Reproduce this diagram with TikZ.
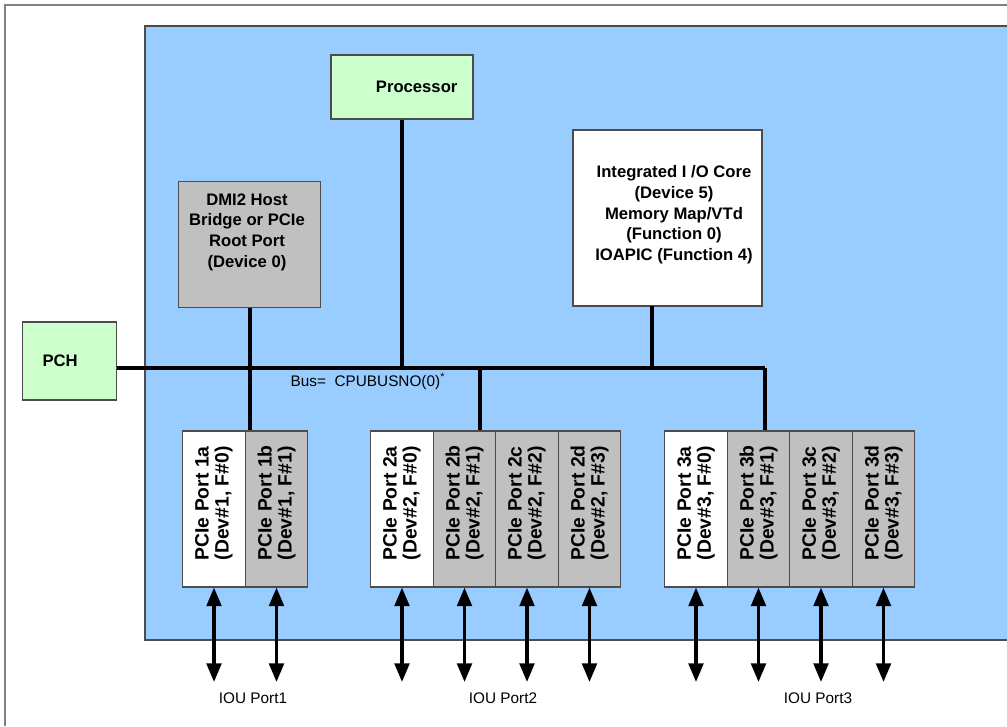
\documentclass[tikz,border=0pt]{standalone}
\usepackage{fontspec}
\setmainfont{Liberation Sans}
\usetikzlibrary{arrows.meta}
\definecolor{bl}{HTML}{99CCFF}
\definecolor{gr}{HTML}{CCFFCC}
\definecolor{gy}{HTML}{C0C0C0}
\begin{document}
\begin{tikzpicture}[x=0.75pt,y=-0.75pt,
 box/.style={draw=black!70,line width=0.8pt,inner sep=0pt,align=center},
 txt/.style={font=\bfseries\fontsize{12.5}{15.5}\selectfont,align=center},
 port/.style={draw=black!70,line width=0.8pt,minimum width=47pt,minimum height=117pt,inner sep=0pt},
 bus/.style={line width=3pt},
 io/.style={line width=2.5pt,{Triangle[width=11pt,length=14pt]}-{Triangle[width=11pt,length=14pt]}},
 lbl/.style={font=\fontsize{11.5}{13}\selectfont}]
\useasboundingbox (0,0) rectangle (1007,726);
\draw[gray,line width=1pt] (1007,5) -- (5,5) -- (5,726);
\fill[bl] (145,26) rectangle (1007,640);
\draw[black!70,line width=0.8pt] (1007,26) -- (145,26) -- (145,640) -- (1007,640);
\node[box,fill=gr,minimum width=106.5pt,minimum height=48pt,txt] (proc) at (402,87) {\hspace*{22pt}Processor};
\node[box,fill=gy,minimum width=106pt,minimum height=94.5pt,anchor=north] (dmi) at (249.5,181) {};
\node[txt] at (247,232) {DMI2 Host\\Bridge or PCIe\\Root Port\\(Device 0)};
\node[box,fill=white,minimum width=141.75pt,minimum height=132pt] (iio) at (667.5,218) {};
\node[txt] at (674,215) {Integrated I /O Core\\(Device 5)\\Memory Map/VTd\\(Function 0)\\IOAPIC (Function 4)};
\node[box,fill=gr,minimum width=71pt,minimum height=58.5pt,txt] (pch) at (69.5,361) {\hspace*{-14pt}PCH};
\coordinate (b2) at (480,368);
\coordinate (b3) at (765,368);
\coordinate (bp) at (402,368);
\coordinate (bi) at (652,368);
\coordinate (it) at (652,306);
\foreach \n/\x/\c/\t in {p1a/214/white/PCIe Port 1a\\(Dev\#1{,} F\#0),p1b/276.5/gy/PCIe Port 1b\\(Dev\#1{,} F\#1),
 p2a/402/white/PCIe Port 2a\\(Dev\#2{,} F\#0),p2b/464.5/gy/PCIe Port 2b\\(Dev\#2{,} F\#1),p2c/527/gy/PCIe Port 2c\\(Dev\#2{,} F\#2),p2d/589.5/gy/PCIe Port 2d\\(Dev\#2{,} F\#3),
 p3a/696/white/PCIe Port 3a\\(Dev\#3{,} F\#0),p3b/758.5/gy/PCIe Port 3b\\(Dev\#3{,} F\#1),p3c/821/gy/PCIe Port 3c\\(Dev\#3{,} F\#2),p3d/883.5/gy/PCIe Port 3d\\(Dev\#3{,} F\#3)}{
  \node[port,fill=\c] (\n) at (\x,509) {};
  \node[rotate=90,font=\bfseries\fontsize{14.5}{15}\selectfont,align=left,anchor=west] at (\x,565) {\t};
  \coordinate (\n e) at (\x,682);
  \draw[io] (\n.south) -- (\n e);
}
\draw[bus] (pch.east |- b3) -- (b3);
\draw[bus] (proc.south) -- (bp);
\draw[bus] (it) -- (bi);
\draw[bus] (dmi.south) -- (dmi.south |- p1a.north);
\draw[bus] (b2) -- (b2 |- p2a.north);
\draw[bus] (b3) -- (b3 |- p3a.north);
\node[lbl,anchor=west] (bl) at (286,381) {Bus=\ \ CPUBUSNO(0)\textsuperscript{*}};
\node[lbl] (i1) at (253,698) {IOU Port1};
\node[lbl] (i2) at (503,698) {IOU Port2};
\node[lbl] (i3) at (818,698) {IOU Port3};
\end{tikzpicture}
\end{document}
